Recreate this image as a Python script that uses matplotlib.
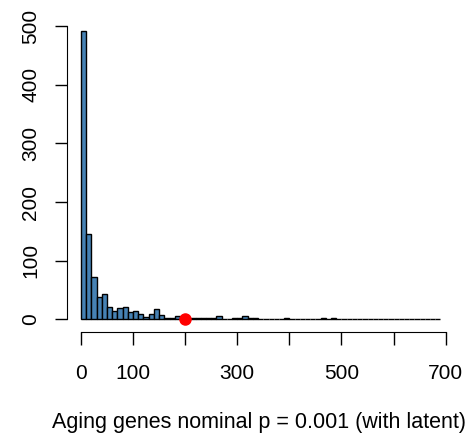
import matplotlib
matplotlib.use("Agg")
import matplotlib.pyplot as plt
import numpy as np

plt.rcParams['font.family'] = ['Liberation Sans', 'DejaVu Sans']

# histogram of counts, bins of width 10 starting at 0
bin_width = 10
counts = [491, 146, 73, 38, 43, 21, 15, 20, 21, 12,
          15, 9, 4, 9, 17, 7, 3, 3, 6, 3,
          2, 2, 3, 3, 2, 2, 5, 1, 1, 2,
          2, 6, 3, 2, 1, 0, 0, 1, 0, 2,
          0, 1, 1, 1, 0, 1, 2, 1, 2, 1,
          1, 1, 0, 1, 1, 1, 1, 1, 1, 0,
          1, 1, 1, 1, 1, 0, 1, 1, 1]
observed = 200
x_ticks = [0, 100, 200, 300, 400, 500, 600, 700]
x_labels = ["0", "100", "", "300", "", "500", "", "700"]
y_ticks = [0, 100, 200, 300, 400, 500]
xlabel = "Aging genes nominal p = 0.001 (with latent)"

edges = np.arange(len(counts)) * bin_width

fig = plt.figure(figsize=(4.75, 4.38), dpi=100)
ax = fig.add_axes([0.1404, 0.2427, 0.8088, 0.6977])

ax.bar(edges, counts, width=bin_width, align='edge', color='#4682B4',
       edgecolor='black', linewidth=1)
ax.plot(observed, 0, 'o', color='red', markersize=8, clip_on=False, zorder=5)

ax.set_xlim(-27.4, 710)
ax.set_ylim(-21, 500)

for s in ['top', 'right']:
    ax.spines[s].set_visible(False)
ax.spines['left'].set_bounds(0, 500)
ax.spines['bottom'].set_bounds(0, 700)

ax.set_xticks(x_ticks)
ax.set_xticklabels(x_labels)
ax.set_yticks(y_ticks)
ax.set_yticklabels([str(v) for v in y_ticks], rotation=90, va='center')
ax.tick_params(axis='both', length=9, width=1, labelsize=15, direction='out')
ax.tick_params(axis='x', pad=14)
ax.tick_params(axis='y', pad=10)

ax.set_xlabel(xlabel, fontsize=15.5, labelpad=21)

fig.savefig("out.png", dpi=100)
